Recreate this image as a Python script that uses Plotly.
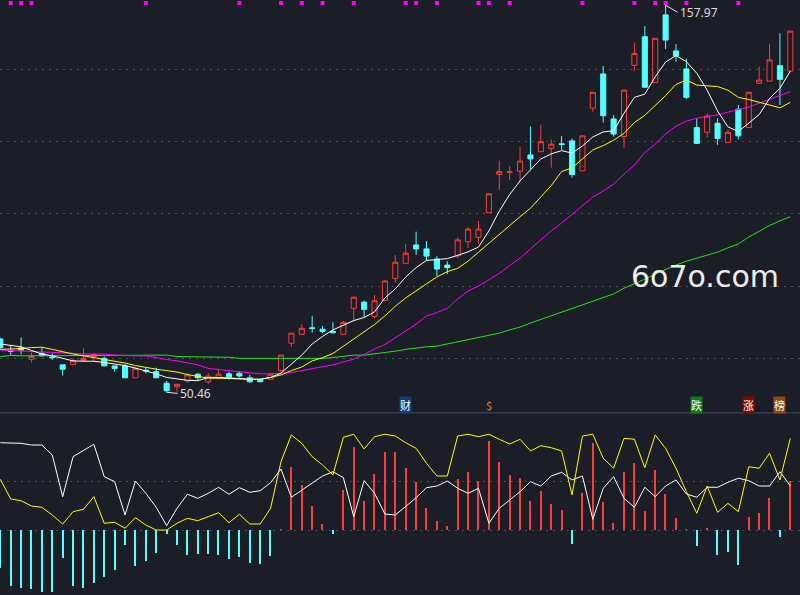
import plotly.graph_objects as go
from plotly.subplots import make_subplots

# daily candles, oldest first
day = list(range(77))

open_ = [65.3, 62.1, 62.8, 59.6, 61.3, 60.3, 58.1, 58.2, 59.25, 60.4,
         59.9, 57.8, 57.8, 54.5, 56.6, 56.2, 53.0, 52.0, 53.6, 55.5,
         53.4, 54.4, 55.6, 55.75, 54.5, 54.0, 54.1, 56.5, 64.1, 66.6,
         68.4, 68.0, 67.4, 66.6, 73.8, 75.5, 71.5, 76.0, 82.1, 86.3,
         91.4, 90.3, 87.5, 85.8, 88.4, 92.3, 93.5, 100.4, 111.0, 111.6,
         111.9, 116.4, 117.3, 118.25, 119.5, 120.3, 112.0, 129.4, 138.9, 126.4,
         121.5, 141.3, 149.25, 136.5, 155.3, 145.3, 140.3, 124.0, 122.7, 125.2,
         119.9, 129.1, 124.0, 136.3, 136.9, 141.2, 139.7]
high = [65.6, 63.4, 65.7, 61.5, 62.9, 61.3, 58.1, 59.9, 62.7, 61.3,
        60.4, 57.8, 58.3, 57.5, 57.3, 57.3, 53.6, 52.7, 55.7, 55.8,
        55.8, 56.7, 56.2, 56.2, 55.3, 54.1, 56.0, 60.8, 67.0, 69.4,
        71.7, 68.9, 69.9, 70.3, 76.9, 76.0, 77.5, 81.5, 88.6, 91.7,
        95.1, 92.5, 88.3, 86.9, 93.6, 96.3, 98.1, 105.8, 114.8, 113.3,
        118.7, 124.3, 124.8, 120.7, 121.7, 121.0, 121.7, 133.8, 141.1, 127.5,
        134.4, 147.7, 152.2, 148.8, 157.97, 147.2, 143.2, 126.6, 128.0, 126.6,
        123.3, 130.3, 133.8, 140.9, 147.2, 150.2, 150.8]
low = [62.5, 60.8, 61.0, 58.7, 60.5, 59.4, 55.1, 58.2, 59.0, 59.0,
       57.8, 56.2, 54.5, 54.5, 55.7, 54.5, 50.46, 50.6, 53.2, 53.7,
       52.8, 54.4, 54.0, 54.6, 53.1, 53.3, 54.1, 56.0, 63.1, 66.6,
       67.0, 66.9, 67.0, 66.6, 70.1, 71.3, 71.0, 76.0, 80.9, 86.3,
       88.6, 87.0, 82.8, 83.3, 87.7, 90.6, 91.7, 100.3, 106.7, 109.4,
       109.0, 112.4, 117.3, 112.9, 117.8, 110.1, 112.0, 128.4, 125.4, 121.5,
       118.4, 139.8, 135.2, 136.5, 145.8, 142.3, 131.9, 119.6, 121.2, 119.2,
       119.9, 120.75, 124.0, 136.1, 136.9, 130.3, 139.7]
close = [62.9, 61.9, 62.2, 60.4, 60.6, 60.1, 56.9, 59.25, 59.9, 61.0,
         57.8, 57.1, 54.5, 57.1, 56.4, 54.5, 50.9, 52.7, 55.3, 54.5,
         55.0, 55.5, 54.6, 55.0, 53.4, 53.4, 55.5, 60.8, 66.9, 68.25,
         68.2, 67.4, 67.0, 69.9, 76.9, 73.5, 75.9, 81.4, 86.6, 89.1,
         90.3, 88.3, 84.7, 85.1, 92.8, 95.8, 95.8, 105.6, 111.75, 111.7,
         114.7, 115.3, 120.1, 119.4, 119.3, 111.0, 121.7, 133.8, 127.3, 122.2,
         134.4, 144.6, 135.2, 148.8, 148.3, 143.9, 132.4, 119.6, 127.2, 121.0,
         122.7, 121.7, 133.8, 137.2, 142.8, 137.4, 150.8]

# moving averages as drawn on the chart
ma5 = [63.9, 63.5, 63.1, 62.1, 61.1, 60.6, 59.9, 59.2, 59.1, 59.1,
       58.75, 58.4, 57.9, 57.2, 56.5, 55.6, 54.6, 54.2, 53.8, 53.7,
       54.6, 54.6, 54.4, 54.4, 54.1, 54.1, 54.6, 55.8, 58.3, 60.8,
       63.9, 66.0, 67.8, 69.2, 70.4, 71.25, 72.8, 76.7, 79.2, 82.5,
       85.1, 87.1, 87.4, 87.6, 88.5, 89.5, 90.8, 95.3, 100.8, 105.4,
       109.2, 112.3, 115.3, 116.7, 117.6, 116.9, 118.9, 121.4, 122.8, 123.1,
       128.0, 132.4, 133.3, 138.1, 142.2, 144.0, 142.3, 139.1, 134.4, 128.6,
       124.2, 122.9, 125.3, 127.6, 132.1, 134.9, 139.7]
ma10 = [62.4, 62.4, 62.6, 62.9, 63.0, 62.4, 61.7, 61.1, 60.6, 60.1,
        59.6, 59.2, 58.6, 57.9, 57.3, 56.9, 56.5, 56.1, 55.4, 54.9,
        54.4, 54.4, 54.4, 54.2, 54.1, 54.1, 54.6, 55.3, 56.5, 57.5,
        59.2, 60.1, 61.25, 63.3, 65.1, 67.2, 69.3, 71.7, 74.4, 76.7,
        78.75, 80.6, 82.5, 84.0, 84.9, 86.9, 89.4, 91.9, 94.2, 96.7,
        99.25, 101.6, 104.6, 107.9, 111.8, 112.8, 115.3, 117.8, 119.0, 120.5,
        122.4, 125.4, 127.4, 130.1, 132.9, 136.0, 137.2, 135.8, 135.6, 135.4,
        134.4, 132.4, 131.8, 131.1, 130.4, 129.5, 131.0]
ma20 = [62.2, 62.1, 62.0, 61.9, 61.75, 61.6, 61.5, 61.3, 61.1, 61.1,
        61.1, 60.8, 60.6, 60.6, 60.6, 60.0, 59.6, 59.2, 58.6, 58.1,
        57.1, 56.8, 56.5, 56.1, 55.75, 55.6, 55.6, 55.7, 56.0, 56.5,
        57.0, 57.5, 58.1, 58.9, 59.7, 61.0, 62.5, 63.75, 65.6, 67.5,
        69.4, 71.7, 72.6, 73.8, 76.4, 78.6, 80.0, 81.7, 83.5, 85.7,
        87.7, 90.3, 92.8, 95.3, 97.5, 99.9, 102.2, 104.7, 106.4, 108.3,
        111.1, 113.6, 117.1, 119.4, 122.2, 124.4, 125.8, 126.6, 127.1, 127.5,
        128.3, 129.0, 129.7, 130.8, 131.9, 133.1, 134.0]
ma60 = [60.4, 60.7, 60.6, 60.6, 60.6, 60.8, 60.8, 60.8, 60.8, 60.8,
        60.8, 60.8, 60.8, 60.8, 60.8, 60.8, 60.8, 60.4, 60.4, 60.4,
        60.4, 60.2, 60.2, 59.9, 59.9, 59.9, 59.7, 59.7, 59.9, 59.9,
        59.9, 59.9, 60.1, 60.4, 60.8, 60.8, 61.1, 61.5, 61.9, 62.4,
        62.8, 63.1, 63.3, 63.9, 64.4, 65.0, 65.6, 66.1, 66.9, 67.8,
        68.6, 69.7, 70.7, 71.7, 72.8, 73.9, 74.9, 75.8, 76.8, 77.8,
        79.4, 80.6, 81.9, 83.3, 84.6, 85.8, 86.9, 87.8, 88.6, 89.4,
        90.6, 91.7, 93.6, 95.3, 96.8, 98.1, 99.25]

# lower indicator panel
hist = [-39.9, -58.0, -60.7, -61.8, -64.3, -64.3, -28.9, -58.0, -60.7, -54.9,
        -48.6, -41.7, -15.6, -37.2, -32.0, -23.6, -4.5, -15.6, -26.0, -25.0,
        -25.0, -26.0, -30.2, -27.8, -34.1, -35.4, -26.8, 1.0, 65.9, 46.9,
        25.0, 6.25, -4.2, 41.7, 86.8, 30.2, 58.3, 81.6, 81.6, 64.9,
        50.3, 23.2, 9.4, 4.2, 53.1, 60.7, 51.4, 93.0, 71.1, 57.3,
        54.5, 30.5, 40.9, 27.1, 20.8, -14.6, 38.9, 90.3, 29.5, 7.6,
        60.7, 70.1, 19.8, 62.5, 37.5, 12.2, 0.7, -16.4, 1.4, -26.0,
        -22.6, -36.5, 13.9, 18.0, 33.6, -7.0, 51.4]
line_white = [90.9, 90.3, 90.3, 88.5, 88.5, 78.1, 34.7, 76.4, 82.6, 89.3,
              55.5, 50.3, 15.6, 51.0, 38.2, 23.6, 4.5, 22.6, 37.2, 33.0,
              38.2, 44.5, 37.2, 44.1, 39.3, 40.9, 49.3, 63.5, 34.1, 41.7,
              48.6, 56.25, 60.7, 54.5, 13.9, 51.4, 38.2, 16.7, 15.6, 25.0,
              33.6, 44.1, 45.8, 51.0, 43.4, 38.2, 43.4, 7.0, 22.6, 31.25,
              39.9, 50.3, 45.8, 56.25, 60.1, 52.1, 56.25, 11.1, 43.4, 55.5,
              33.0, 23.6, 44.5, 34.7, 45.8, 52.1, 37.5, 34.1, 44.5, 44.5,
              49.7, 53.9, 51.4, 45.8, 45.8, 60.7, 45.8]
line_yellow = [52.8, 32.3, 30.5, 25.0, 23.6, 15.6, 6.25, 19.1, 21.6, 34.7,
               7.0, 8.0, 1.8, 12.8, 5.2, 0.0, 0.0, 7.0, 12.2, 9.7,
               13.9, 18.0, 7.6, 16.4, 6.25, 6.25, 22.6, 71.1, 99.0, 90.3,
               76.4, 67.7, 57.3, 96.6, 99.7, 84.4, 97.2, 99.7, 97.9, 90.9,
               85.1, 69.5, 56.25, 56.25, 97.9, 99.7, 97.2, 99.7, 94.5, 89.6,
               94.5, 82.3, 87.8, 85.7, 82.3, 36.5, 97.9, 99.7, 74.7, 64.3,
               95.5, 94.5, 64.9, 99.0, 85.1, 64.3, 39.9, 17.4, 45.8, 18.4,
               27.8, 19.1, 65.9, 64.3, 79.9, 52.1, 95.5]

# signal days (small magenta squares along the top)
signal_days = [1, 2, 3, 14, 23, 27, 29, 31, 34, 39, 40, 42, 46, 47, 49, 56, 61, 63, 64, 66, 71]

# event tags above the divider: (day, text, background, text colour)
events = [(39, "财", "#123f73", "#ffffff"),
          (47, "$", "rgba(0,0,0,0)", "#ff7a3c"),
          (67, "跌", "#0b7d12", "#ffffff"),
          (72, "涨", "#7d0a0a", "#ffffff"),
          (75, "榜", "#8a4a12", "#ffffff")]

BG = "#1b1e26"
RED = "#ff3b3b"
CYAN = "#55ffff"
GRID = "#4a4e58"
DOTS = "2px,5px"

fig = make_subplots(rows=2, cols=1, shared_xaxes=True, vertical_spacing=0,
                    row_heights=[412, 183])

fig.add_trace(go.Candlestick(
    x=day, open=open_, high=high, low=low, close=close,
    increasing=dict(line=dict(color=RED, width=1), fillcolor=BG),
    decreasing=dict(line=dict(color=CYAN, width=1), fillcolor=CYAN),
    whiskerwidth=0, hoverinfo="skip"), row=1, col=1)

for vals, col in [(ma60, "#1ee81e"), (ma20, "#ff00ff"), (ma10, "#ffff00"), (ma5, "#ffffff")]:
    fig.add_trace(go.Scatter(x=day, y=vals, mode="lines",
                             line=dict(color=col, width=1)), row=1, col=1)

fig.add_trace(go.Scatter(x=signal_days, y=[158.6] * len(signal_days), mode="markers",
                         marker=dict(symbol="square", size=4, color="#ff00ff"),
                         cliponaxis=False),
              row=1, col=1)

# lower panel: histogram + two lines
fig.add_trace(go.Bar(x=day, y=hist, width=0.12,
                     marker=dict(color=[RED if v >= 0 else CYAN for v in hist], line=dict(width=0))),
              row=2, col=1)
fig.add_trace(go.Scatter(x=day, y=line_white, mode="lines",
                         line=dict(color="#ffffff", width=1)), row=2, col=1)
fig.add_trace(go.Scatter(x=day, y=line_yellow, mode="lines",
                         line=dict(color="#ffff00", width=1)), row=2, col=1)

fig.update_layout(
    width=800, height=595,
    margin=dict(l=0, r=0, t=0, b=0, pad=0, autoexpand=False),
    paper_bgcolor=BG, plot_bgcolor=BG,
    showlegend=False,
    bargap=0,
    hovermode=False,
)
fig.update_xaxes(range=[-0.03, 76.93], visible=False, rangeslider_visible=False)
fig.update_yaxes(range=[45.0, 159.44], tickvals=[60, 80, 100, 120, 140],
                 showticklabels=False, showgrid=True, gridcolor=GRID, griddash=DOTS,
                 gridwidth=1, zeroline=False, showline=False, row=1, col=1)
fig.update_yaxes(range=[-67.7, 122.9], tickvals=[0, 50],
                 showticklabels=False, showgrid=True, gridcolor=GRID, griddash=DOTS,
                 gridwidth=1, zeroline=False, showline=False, row=2, col=1)

# panel divider
fig.add_shape(type="line", xref="paper", yref="paper", x0=0, x1=1,
              y0=1 - 412.7 / 595, y1=1 - 412.7 / 595,
              line=dict(color="#363c4a", width=1.5))

# high / low marks
fig.add_annotation(x=64, y=157.97, xref="x", yref="y", text="157.97",
                   showarrow=True, arrowhead=0, arrowwidth=1, arrowcolor="#e0e0e0",
                   ax=12, ay=7, xanchor="left", yanchor="middle",
                   font=dict(family="Noto Sans", size=12, color="#dcdcdc"))
fig.add_annotation(x=16, y=50.46, xref="x", yref="y", text="50.46",
                   showarrow=True, arrowhead=0, arrowwidth=1, arrowcolor="#e0e0e0",
                   ax=11, ay=1, xanchor="left", yanchor="middle",
                   font=dict(family="Noto Sans", size=12, color="#dcdcdc"))

for d, txt, bg, fc in events:
    fig.add_annotation(x=d, y=1 - 405 / 595, xref="x", yref="paper", text=txt,
                       showarrow=False, bgcolor=bg, borderpad=0,
                       xanchor="center", yanchor="middle",
                       font=dict(family="Noto Sans CJK SC", size=11, color=fc))

# watermark
fig.add_annotation(x=705 / 800, y=1 - 276 / 595, xref="paper", yref="paper",
                   text="6o7o.com", showarrow=False,
                   xanchor="center", yanchor="middle",
                   font=dict(family="DejaVu Sans", size=30, color="#ececec"))

# page body has a default 8px margin; drop it so the chart sits flush
fig.write_html("out.html", config={"displayModeBar": False},
               post_script="document.body.style.margin='0';document.body.style.overflow='hidden';")
